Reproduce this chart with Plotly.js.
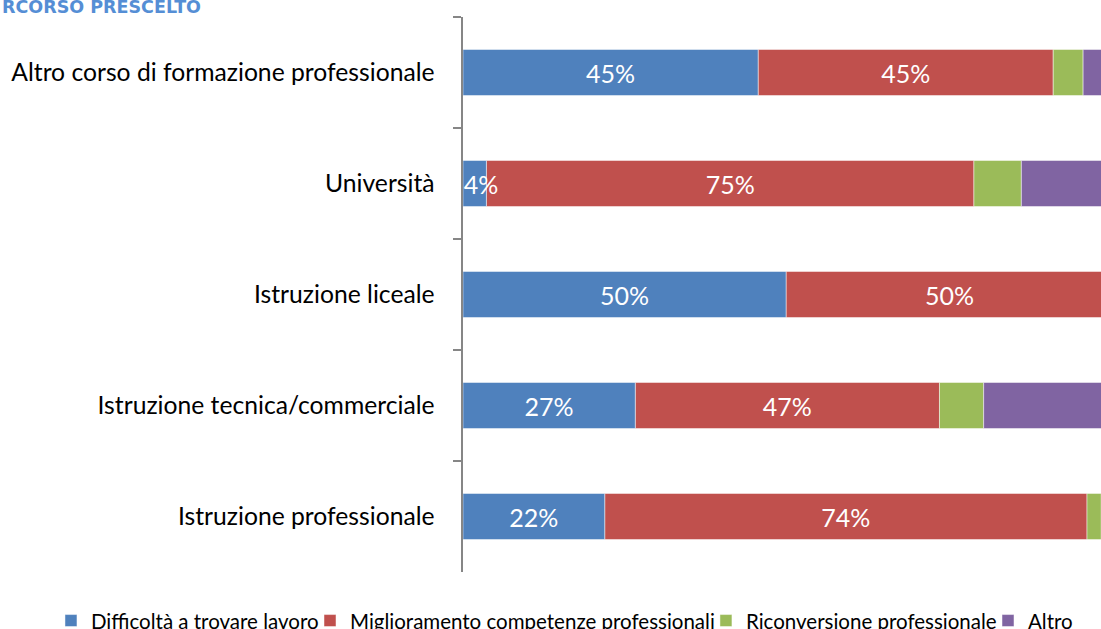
<!DOCTYPE html>
<html>
<head>
<meta charset="utf-8">
<script src="https://cdn.plot.ly/plotly-3.0.1.min.js"></script>
<style>
  html, body { margin: 0; padding: 0; background: #fff; overflow: hidden; }
  #chart { width: 1101px; height: 629px; }
</style>
</head>
<body>
<div id="chart"></div>
<script>
// Percorso prescelto - barre in pila al 100%
const categories = [
    "Altro corso di formazione professionale",
    "Università",
    "Istruzione liceale",
    "Istruzione tecnica/commerciale",
    "Istruzione professionale"
];
const seriesNames = [
    "Difficoltà a trovare lavoro",
    "Miglioramento competenze professionali",
    "Riconversione professionale",
    "Altro"
];
const difficolta = [45.4, 3.6, 49.7, 26.5, 21.8];
const miglioramento = [45.4, 75.0, 50.3, 46.8, 74.2];
const riconversione = [4.6, 7.3, 0, 6.8, 2.2];
const altro = [4.6, 14.1, 0, 19.9, 1.8];
const showLabel = [true, true, false, false];

const colors = ["#4F81BD", "#C0504D", "#9BBB59", "#8064A2"];
const allValues = [difficolta, miglioramento, riconversione, altro];
const mainFont = "Lato, 'Open Sans', sans-serif";

// one legend per series so each entry sits where the original has it
const legendIds = ['legend', 'legend2', 'legend3', 'legend4'];
const legendX = [-0.6458, -0.2398, 0.3808, 0.8229];

// narrow segments: label runs to the right, like in the original
function pctLabel(v) {
    const lbl = Math.round(v) + '%';
    return v < 5 ? '\u00a0\u00a0' + lbl : lbl;
}

// stack by hand (base = sum of the previous series) so the first series
// can be drawn last and its overflowing label stays on top
const traces = allValues.map((vals, i) => {
    const base = categories.map((c, j) => {
        let s = 0;
        for (let k = 0; k < i; k++) s += allValues[k][j];
        return s;
    });
    return {
        type: 'bar',
        orientation: 'h',
        name: seriesNames[i],
        legend: legendIds[i],
        y: categories,
        x: vals,
        base: base,
        text: showLabel[i] ? vals.map(pctLabel) : vals.map(() => ''),
        textposition: 'inside',
        insidetextanchor: 'middle',
        textangle: 0,
        constraintext: 'none',
        textfont: { family: mainFont, size: 25, color: '#ffffff' },
        marker: {
            color: colors[i],
            line: { color: 'rgba(255,255,255,0.6)', width: 0.8 }
        },
        hoverinfo: 'none'
    };
});
const data = [traces[1], traces[2], traces[3], traces[0]];

const layout = {
    width: 1101,
    height: 629,
    margin: { l: 463, r: 0, t: 17, b: 57, autoexpand: false },
    barmode: 'overlay',
    bargap: 0.585,
    paper_bgcolor: '#ffffff',
    plot_bgcolor: '#ffffff',
    showlegend: true,
    font: { family: mainFont, color: '#000000' },
    xaxis: {
        range: [0, 98.15],
        visible: false,
        fixedrange: true
    },
    yaxis: {
        type: 'category',
        categoryorder: 'array',
        categoryarray: categories,
        autorange: 'reversed',
        showline: true,
        linecolor: '#868686',
        linewidth: 2.5,
        ticks: 'outside',
        tickson: 'boundaries',
        ticklen: 8,
        tickwidth: 2,
        tickcolor: '#868686',
        ticklabelstandoff: 21,
        showgrid: false,
        zeroline: false,
        tickfont: { family: mainFont, size: 24.7, color: '#000000' },
        fixedrange: true
    },
    annotations: [{
        text: 'RCORSO PRESCELTO',
        xref: 'paper', yref: 'paper',
        x: -0.7257, y: 1.0175,
        xanchor: 'left', yanchor: 'middle',
        showarrow: false,
        font: { family: "'DejaVu Sans', sans-serif", size: 17.5, color: '#558ED5', weight: 'bold' }
    }]
};

legendIds.forEach((id, i) => {
    layout[id] = {
        orientation: 'h',
        x: legendX[i],
        xanchor: 'left',
        y: -0.0878,
        yanchor: 'middle',
        bgcolor: 'rgba(0,0,0,0)',
        font: { family: mainFont, size: 20.5, color: '#000000' },
        itemwidth: 30
    };
});

Plotly.newPlot('chart', data, layout, { displayModeBar: false, staticPlot: true });
</script>
</body>
</html>
